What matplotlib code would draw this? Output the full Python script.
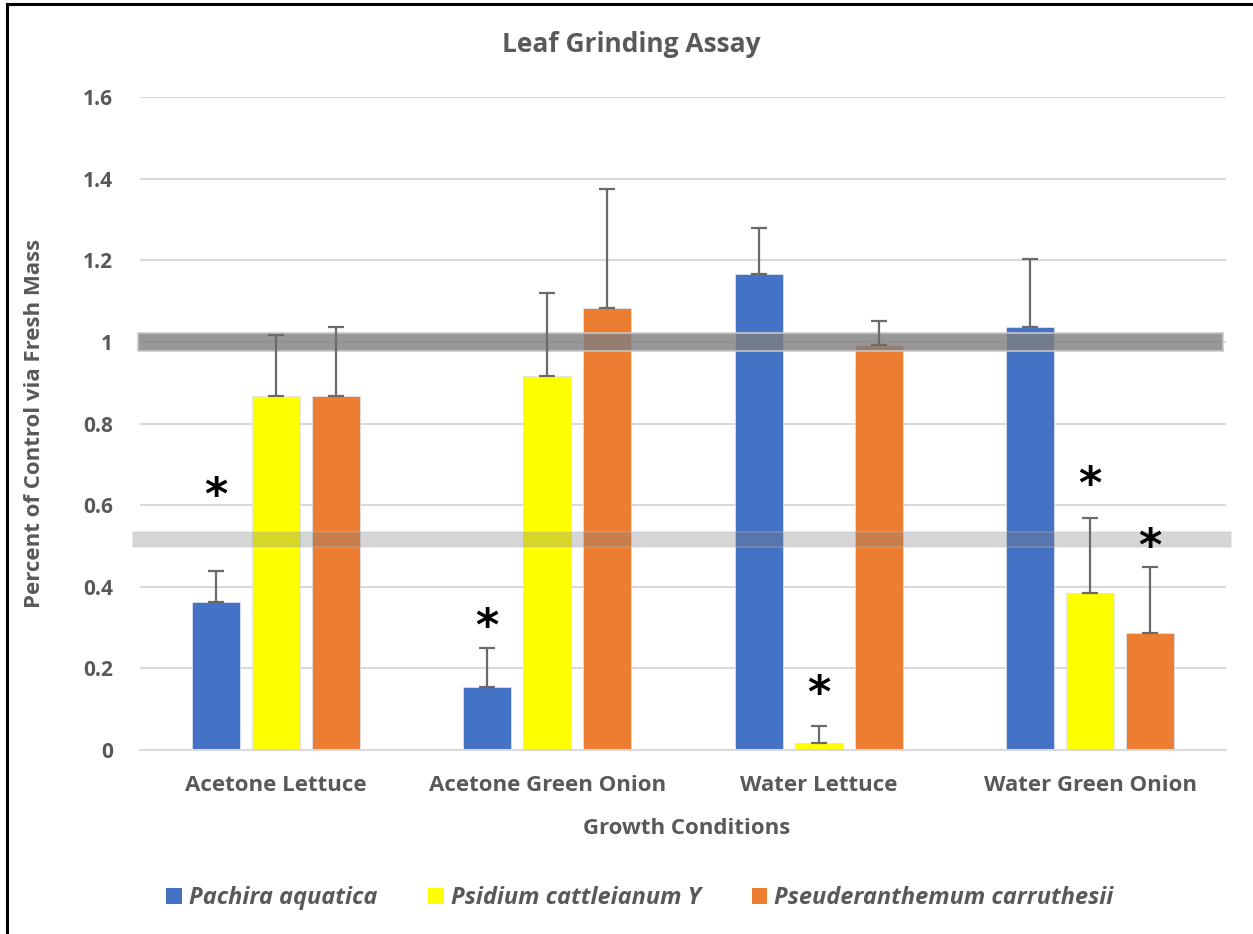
import matplotlib
matplotlib.use("Agg")
import matplotlib.pyplot as plt
from matplotlib.patches import Patch, Rectangle
from matplotlib.lines import Line2D
import numpy as np

plt.rcParams['font.family'] = ['Open Sans', 'DejaVu Sans']

# ---- data ----
categories = ["Acetone Lettuce", "Acetone Green Onion", "Water Lettuce", "Water Green Onion"]
species = ["Pachira aquatica", "Psidium cattleianum Y", "Pseuderanthemum carruthesii"]

pachira = [0.363, 0.155, 1.167, 1.037]
psidium = [0.868, 0.917, 0.016, 0.385]
pseuder = [0.868, 1.083, 0.993, 0.287]

pachira_err = [0.075, 0.096, 0.113, 0.166]
psidium_err = [0.148, 0.203, 0.042, 0.184]
pseuder_err = [0.169, 0.292, 0.058, 0.161]

# reference bands: (centre, half-height)
ref_bands = [(1.0, 0.022), (0.516, 0.019)]

# significance marks: (category index, series index, height)
sig_marks = [(0, 0, 0.622), (1, 0, 0.299), (2, 1, 0.137), (3, 1, 0.647), (3, 2, 0.495)]

yticks = [0, 0.2, 0.4, 0.6, 0.8, 1.0, 1.2, 1.4, 1.6]
ytick_labels = ["0", "0.2", "0.4", "0.6", "0.8", "1", "1.2", "1.4", "1.6"]

colors = ["#4472C4", "#FFFF00", "#ED7D31"]
text_col = "#595959"
grid_col = "#D9D9D9"

fig = plt.figure(figsize=(12.53, 9.34), dpi=100)
ax = fig.add_axes([140 / 1253, 1 - 750 / 934, 1086 / 1253, 653 / 934])

x = np.arange(len(categories))
offset = 0.221
width = 0.177
series = [pachira, psidium, pseuder]
errs = [pachira_err, psidium_err, pseuder_err]

for i, (vals, err, col) in enumerate(zip(series, errs, colors)):
    xs = x + (i - 1) * offset
    ax.bar(xs, vals, width, color=col, edgecolor="#DCE3F0", linewidth=0.6, zorder=2)
    ax.errorbar(xs, vals, yerr=[np.zeros(len(vals)), err], fmt="none",
                ecolor="#6A6A6A", elinewidth=1.6, capsize=6, capthick=1.6, zorder=4)

# reference bands drawn across the plot
dark = Rectangle((-0.507, ref_bands[0][0] - ref_bands[0][1]), 3.996, 2 * ref_bands[0][1],
                 facecolor="#7F7F7F", alpha=0.8, edgecolor="#C8C8C8", linewidth=1.5,
                 zorder=3, clip_on=False)
light = Rectangle((-0.526, ref_bands[1][0] - ref_bands[1][1]), 4.044, 2 * ref_bands[1][1],
                  facecolor="#808080", alpha=0.32, edgecolor="#BDBDBD", linewidth=1.2,
                  zorder=3, clip_on=False)
ax.add_patch(dark)
ax.add_patch(light)

for ci, si, h in sig_marks:
    ax.text(x[ci] + (si - 1) * offset, h, "*", fontsize=32, fontweight="bold",
            color="black", ha="center", va="center", zorder=5,
            family=["DejaVu Sans"])

ax.set_xlim(-0.5, 3.5)
ax.set_ylim(0, 1.6)
ax.set_yticks(yticks)
ax.set_yticklabels(ytick_labels)
ax.set_xticks(x)
ax.set_xticklabels(categories)
ax.yaxis.grid(True, color=grid_col, linewidth=1.5, zorder=0)
ax.set_axisbelow(True)
for s in ["top", "right", "left"]:
    ax.spines[s].set_visible(False)
ax.spines["bottom"].set_color(grid_col)
ax.spines["bottom"].set_linewidth(1.5)
ax.tick_params(axis="y", length=0, labelsize=15, labelcolor=text_col, pad=19.5)
ax.tick_params(axis="x", length=0, labelsize=16, labelcolor=text_col, pad=18)
for lab in ax.get_xticklabels() + ax.get_yticklabels():
    lab.set_fontweight("bold")

ax.set_xlabel("Growth Conditions", fontsize=16, fontweight="bold", color=text_col,
              va="center")
ax.xaxis.set_label_coords((687 - 140) / 1086, -(828 - 750) / 653)
ax.set_ylabel("Percent of Control via Fresh Mass", fontsize=16, fontweight="bold",
              color=text_col, va="center")
ax.yaxis.set_label_coords((35 - 140) / 1086, 0.5)
fig.text(631 / 1253, 1 - 45 / 934, "Leaf Grinding Assay", fontsize=19, fontweight="bold",
         color=text_col, ha="center", va="center")

handles = [Patch(facecolor=c, edgecolor="none") for c in colors]
leg = fig.legend(handles, species, loc="center", bbox_to_anchor=(640 / 1253, 1 - 898 / 934),
                 ncol=3, frameon=False, handlelength=0.64, handleheight=0.64,
                 handletextpad=0.3, columnspacing=2.18,
                 prop={"size": 17, "weight": "bold", "style": "italic"})
for t in leg.get_texts():
    t.set_color(text_col)

# frame lines along the left and top edges
fig.add_artist(Line2D([7 / 1253, 7 / 1253], [0, 1 - 3.5 / 934], color="black", linewidth=2.2))
fig.add_artist(Line2D([7 / 1253, 1], [1 - 3.5 / 934, 1 - 3.5 / 934], color="black", linewidth=2.2))

fig.savefig("out.png", dpi=100)
